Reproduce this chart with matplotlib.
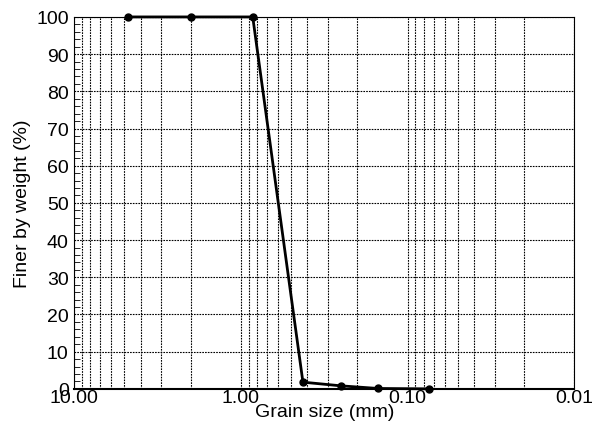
import matplotlib.pyplot as plt
from matplotlib.ticker import FixedLocator, MultipleLocator, LogLocator, NullFormatter

plt.rcParams['font.family'] = ['Liberation Sans', 'DejaVu Sans']

# Sieve data
grain_size = [4.75, 2.0, 0.85, 0.425, 0.25, 0.15, 0.075]
finer = [100, 100, 100, 1.8, 0.8, 0.1, 0.0]

xticks = [10, 1, 0.1, 0.01]
xticklabels = ["10.00", "1.00", "0.10", "0.01"]

fig = plt.figure(figsize=(5.94, 4.27), dpi=100)
ax = fig.add_axes([0.125, 0.087, 0.842, 0.871])

ax.plot(grain_size, finer, color="black", linewidth=2, marker="o", markersize=5,
        clip_on=False, zorder=5)

ax.set_xscale("log")
ax.set_xlim(10, 0.01)
ax.set_ylim(0, 100)

ax.xaxis.set_major_locator(FixedLocator(xticks))
ax.set_xticklabels(xticklabels)
ax.xaxis.set_minor_locator(LogLocator(base=10, subs=range(2, 10)))
ax.xaxis.set_minor_formatter(NullFormatter())
ax.yaxis.set_major_locator(MultipleLocator(10))
ax.yaxis.set_minor_locator(MultipleLocator(2))

ax.grid(True, which="both", axis="x", color="black", linestyle=(0, (1.5, 1)), linewidth=0.8)
ax.grid(True, which="major", axis="y", color="black", linestyle=(0, (1.5, 1)), linewidth=0.8)

ax.tick_params(axis="both", which="both", direction="in", labelsize=14)
ax.tick_params(axis="x", which="minor", length=0)
ax.tick_params(axis="x", which="major", length=0, pad=0)
ax.tick_params(axis="y", which="minor", length=4)
ax.tick_params(axis="y", which="major", length=0, pad=4)

for s in ax.spines.values():
    s.set_linewidth(0.8)
ax.spines["bottom"].set_linewidth(1.5)

ax.set_xlabel("Grain size (mm)", fontsize=14, labelpad=-2)
ax.set_ylabel("Finer by weight (%)", fontsize=14, labelpad=4)

fig.savefig("out.png", dpi=100)
